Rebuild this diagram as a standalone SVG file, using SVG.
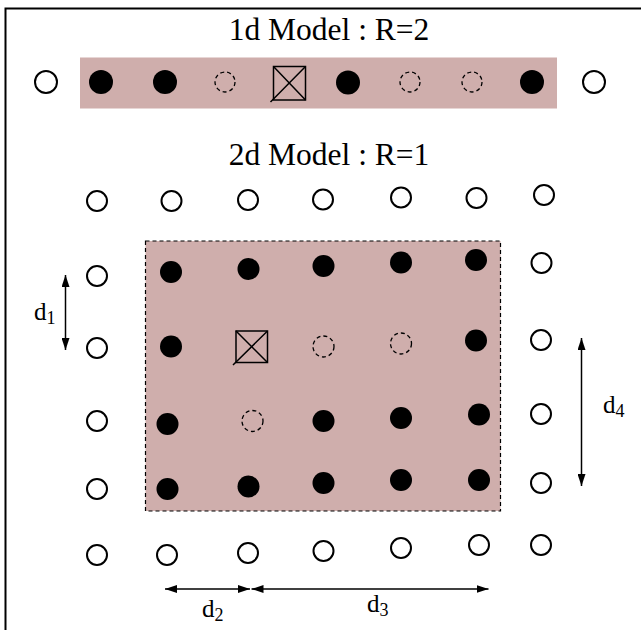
<svg xmlns="http://www.w3.org/2000/svg" width="641" height="630" viewBox="0 0 641 630">
<style>
.open{fill:#fff;stroke:#000;stroke-width:2}
.full{fill:#000;stroke:none}
.dash{fill:none;stroke:#000;stroke-width:1.3;stroke-dasharray:4,3}
.box{fill:none;stroke:#000;stroke-width:1.5}
.region{fill:#cfaeac}
.lbl{font-family:"Liberation Serif","Times New Roman",serif;fill:#000}
.dim{stroke:#000;stroke-width:1.5;fill:none;marker-start:url(#ah);marker-end:url(#ah)}
</style>
<defs>
<marker id="ah" viewBox="0 0 12 8" refX="12" refY="4" markerWidth="12" markerHeight="8" markerUnits="userSpaceOnUse" orient="auto-start-reverse">
<path d="M0,0 L12,4 L0,8 z" fill="#000"/>
</marker>
</defs>
<rect width="641" height="630" fill="#fff"/>
<path d="M5.5,630 V8.5 H641" fill="none" stroke="#000" stroke-width="2"/>

<g id="title1d"><text class="lbl" x="329" y="40" font-size="31.5" text-anchor="middle">1d Model : R=2</text></g>
<g id="region1d"><rect class="region" x="80" y="57.5" width="477" height="51"/></g>
<g id="row1d">
<circle class="open" cx="46" cy="82" r="11"/>
<circle class="full" cx="101" cy="82" r="12"/>
<circle class="full" cx="165" cy="82" r="12"/>
<circle class="dash" cx="225" cy="82" r="10"/>
<g id="center1d"><rect class="box" x="273.5" y="66.5" width="32" height="33.5"/><path class="box" d="M273.5,66.5 L305.5,100 M305.5,66.5 L270.5,102"/></g>
<circle class="full" cx="348" cy="82.5" r="12"/>
<circle class="dash" cx="410" cy="82" r="10"/>
<circle class="dash" cx="472" cy="82" r="10"/>
<circle class="full" cx="532" cy="82" r="12"/>
<circle class="open" cx="594" cy="82" r="11"/>
</g>

<g id="title2d"><text class="lbl" x="329" y="165" font-size="31.5" text-anchor="middle">2d Model : R=1</text></g>
<g id="region2d"><rect class="region" x="145.5" y="241" width="355" height="270" stroke="#000" stroke-width="1.2" stroke-dasharray="4,3"/></g>
<g id="grid2d">
<circle class="open" cx="97" cy="201" r="10"/>
<circle class="open" cx="171.5" cy="201" r="10"/>
<circle class="open" cx="248" cy="200" r="10"/>
<circle class="open" cx="323" cy="199.5" r="10"/>
<circle class="open" cx="401" cy="197.5" r="10"/>
<circle class="open" cx="476.5" cy="198" r="10"/>
<circle class="open" cx="544" cy="195" r="10"/>

<circle class="open" cx="97" cy="276" r="10"/>
<circle class="full" cx="171" cy="272" r="11"/>
<circle class="full" cx="248.5" cy="269" r="11"/>
<circle class="full" cx="323.5" cy="266" r="11"/>
<circle class="full" cx="401" cy="262.5" r="11"/>
<circle class="full" cx="476" cy="260" r="11"/>
<circle class="open" cx="541.5" cy="263" r="10"/>

<circle class="open" cx="97" cy="348" r="10"/>
<circle class="full" cx="171" cy="346.5" r="11"/>
<g id="center2d"><rect class="box" x="236" y="331" width="31.5" height="31.5"/><path class="box" d="M236,331 L267.5,362.5 M267.5,331 L233,365"/></g>
<circle class="dash" cx="323.5" cy="346.5" r="10.5"/>
<circle class="dash" cx="401" cy="343.5" r="10.5"/>
<circle class="full" cx="476" cy="340.5" r="11"/>
<circle class="open" cx="541" cy="340" r="10"/>

<circle class="open" cx="97" cy="421" r="10"/>
<circle class="full" cx="167.5" cy="424" r="11"/>
<circle class="dash" cx="252.5" cy="421" r="10.5"/>
<circle class="full" cx="323.5" cy="421" r="11"/>
<circle class="full" cx="401" cy="418" r="11"/>
<circle class="full" cx="479" cy="414.5" r="11"/>
<circle class="open" cx="541" cy="414" r="10"/>

<circle class="open" cx="97" cy="489" r="10"/>
<circle class="full" cx="167.5" cy="489" r="11"/>
<circle class="full" cx="248.5" cy="486.5" r="11"/>
<circle class="full" cx="323.5" cy="483" r="11"/>
<circle class="full" cx="401" cy="480" r="11"/>
<circle class="full" cx="479" cy="480" r="11"/>
<circle class="open" cx="541" cy="483" r="10"/>

<circle class="open" cx="97" cy="555" r="10"/>
<circle class="open" cx="167" cy="555" r="10"/>
<circle class="open" cx="248" cy="553" r="10"/>
<circle class="open" cx="323.5" cy="551" r="10"/>
<circle class="open" cx="401" cy="548" r="10"/>
<circle class="open" cx="479" cy="545" r="10"/>
<circle class="open" cx="541" cy="545" r="10"/>
</g>

<g id="connectors">
<line class="dim" x1="65.5" y1="275" x2="65.5" y2="350"/>
<line class="dim" x1="581.5" y1="338" x2="581.5" y2="486"/>
<line class="dim" x1="165" y1="589" x2="250" y2="589"/>
<line class="dim" x1="251.5" y1="589" x2="488.5" y2="589"/>
</g>
<g id="labels">
<text class="lbl" x="34" y="320" font-size="25">d<tspan font-size="18" dy="4">1</tspan></text>
<text class="lbl" x="603" y="413" font-size="25">d<tspan font-size="18" dy="4">4</tspan></text>
<text class="lbl" x="202" y="617" font-size="25">d<tspan font-size="18" dy="4">2</tspan></text>
<text class="lbl" x="367" y="612" font-size="25">d<tspan font-size="18" dy="4">3</tspan></text>
</g>
</svg>
